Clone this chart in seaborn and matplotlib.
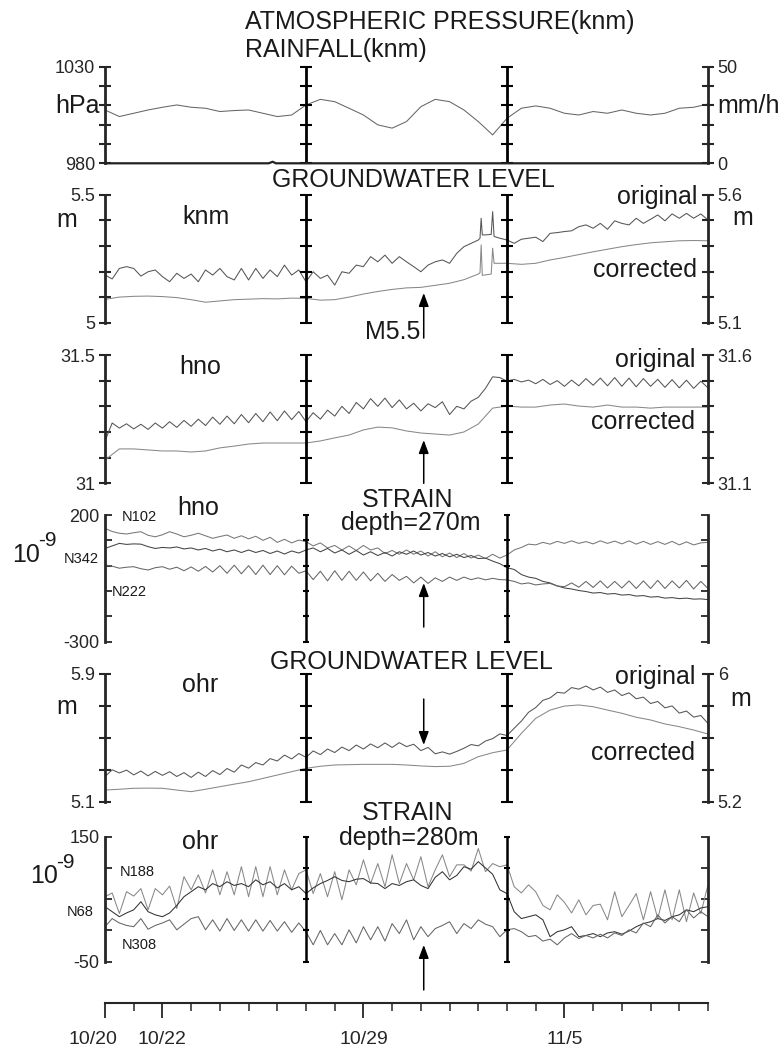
import numpy as np
import matplotlib
matplotlib.use("Agg")
import matplotlib.pyplot as plt
from matplotlib.transforms import ScaledTranslation
import seaborn as sns

# time grids (days since 10/20)
T_HALF = np.arange(0, 21.01, 0.5)
T_QUARTER = np.arange(0, 21.01, 0.25)
QUAKE_DAY = 11.1

DATE_DAYS = [0, 2, 9, 16]
DATE_LABELS = ["10/20", "10/22", "10/29", "11/5"]

# atmospheric pressure knm (hPa), half-day steps
pressure = [1007.6, 1004.2, 1005.9, 1007.6, 1009.0, 1010.2, 1009.0, 1008.5,
            1006.8, 1007.3, 1007.6, 1005.9, 1004.2, 1005.0, 1010.2, 1013.1,
            1011.9, 1008.5, 1005.0, 999.9, 998.2, 1001.6, 1009.3, 1013.1,
            1011.9, 1007.6, 1001.6, 994.7, 1003.3, 1008.5, 1009.7, 1008.5,
            1005.9, 1005.0, 1006.8, 1005.9, 1007.6, 1005.9, 1005.0, 1005.9,
            1008.5, 1009.0, 1010.7]
rain_day = [0, 5.7, 5.84, 5.95, 21]
rain_mm = [0, 0, 0.8, 0, 0]

# groundwater knm (m)
knm_orig = [5.186, 5.171, 5.212, 5.219, 5.212, 5.182, 5.199, 5.206,
            5.180, 5.160, 5.193, 5.173, 5.190, 5.160, 5.206, 5.186,
            5.212, 5.180, 5.167, 5.212, 5.167, 5.212, 5.173, 5.206,
            5.180, 5.225, 5.186, 5.206, 5.160, 5.199, 5.173, 5.186,
            5.147, 5.199, 5.193, 5.225, 5.219, 5.258, 5.238, 5.264,
            5.232, 5.258, 5.238, 5.219, 5.199, 5.225, 5.238, 5.245,
            5.232, 5.271, 5.297, 5.310, 5.323, 5.343, 5.434, 5.330,
            5.323, 5.310, 5.326, 5.330, 5.334, 5.317, 5.349, 5.352,
            5.356, 5.359, 5.375, 5.382, 5.369, 5.388, 5.365, 5.398,
            5.388, 5.382, 5.408, 5.388, 5.404, 5.421, 5.398, 5.425,
            5.408, 5.427, 5.408, 5.425, 5.401]
knm_corr = [5.091, 5.100, 5.103, 5.104, 5.102, 5.098, 5.090, 5.080,
            5.085, 5.090, 5.092, 5.094, 5.093, 5.096, 5.095, 5.088,
            5.090, 5.100, 5.112, 5.122, 5.130, 5.136, 5.138, 5.146,
            5.154, 5.168, 5.190, 5.291, 5.232, 5.228, 5.232, 5.245,
            5.255, 5.266, 5.277, 5.287, 5.297, 5.305, 5.312, 5.316,
            5.320, 5.321, 5.320]
spike_day = [13.06, 13.1, 13.14, 13.45, 13.55]
spike_orig = [5.330, 5.408, 5.343, 5.345, 5.337]
spike_corr = [5.195, 5.304, 5.185, 5.190, 5.232]

# groundwater hno (m)
hno_orig = [31.165, 31.235, 31.215, 31.232, 31.212, 31.230, 31.210, 31.235,
            31.215, 31.240, 31.218, 31.245, 31.222, 31.250, 31.225, 31.258,
            31.230, 31.262, 31.232, 31.268, 31.236, 31.272, 31.240, 31.278,
            31.244, 31.282, 31.248, 31.280, 31.240, 31.275, 31.250, 31.285,
            31.262, 31.300, 31.272, 31.315, 31.290, 31.330, 31.300, 31.332,
            31.295, 31.325, 31.290, 31.312, 31.282, 31.310, 31.295, 31.318,
            31.268, 31.300, 31.290, 31.320, 31.335, 31.370, 31.415, 31.412,
            31.398, 31.405, 31.395, 31.402, 31.388, 31.405, 31.385, 31.400,
            31.378, 31.402, 31.380, 31.408, 31.382, 31.410, 31.380, 31.412,
            31.378, 31.410, 31.376, 31.408, 31.378, 31.405, 31.374, 31.404,
            31.372, 31.402, 31.370, 31.398, 31.372]
hno_corr = [31.091, 31.134, 31.134, 31.130, 31.126, 31.126, 31.122, 31.126,
            31.138, 31.145, 31.153, 31.157, 31.157, 31.157, 31.157, 31.165,
            31.177, 31.188, 31.208, 31.219, 31.216, 31.204, 31.196, 31.192,
            31.188, 31.200, 31.231, 31.293, 31.301, 31.297, 31.297, 31.305,
            31.309, 31.301, 31.297, 31.305, 31.297, 31.297, 31.293, 31.297,
            31.297, 31.297, 31.297]

# strain hno, depth 270 m (1e-9)
n102 = [147, 135, 128, 125, 130, 134, 120, 114,
        122, 134, 125, 114, 120, 128, 118, 108,
        115, 121, 108, 118, 106, 116, 100, 112,
        92, 104, 90, 101, 95, 78, 90, 70,
        80, 62, 78, 60, 80, 62, 70, 48,
        60, 45, 62, 45, 58, 38, 55, 35,
        50, 32, 48, 30, 42, 28, 45, 30,
        42, 62, 72, 85, 82, 92, 85, 96,
        88, 98, 88, 95, 86, 98, 88, 97,
        86, 98, 85, 96, 84, 95, 84, 96,
        82, 94, 82, 90, 92]
n342 = [68, 78, 88, 84, 86, 85, 75, 68,
        72, 70, 74, 66, 70, 62, 68, 58,
        65, 55, 62, 52, 62, 52, 60, 48,
        58, 46, 58, 50, 62, 70, 55, 68,
        50, 62, 45, 60, 42, 55, 40, 52,
        38, 55, 45, 58, 42, 52, 38, 48,
        35, 45, 32, 40, 28, 30, 18, 8,
        -8, -15, -35, -45, -50, -62, -68, -80,
        -88, -92, -98, -102, -108, -106, -112, -110,
        -116, -114, -120, -118, -124, -122, -128, -126,
        -130, -128, -132, -131, -134]
n222 = [3, -2, -10, -6, -4, -12, -17, -8,
        -4, -14, -6, -20, -5, -22, -3, -25,
        0, -30, 2, -32, 0, -35, 2, -35,
        0, -36, -2, -30, -20, -55, -22, -60,
        -20, -58, -22, -58, -25, -60, -30, -62,
        -35, -58, -42, -68, -45, -70, -48, -62,
        -45, -58, -45, -55, -48, -56, -50, -55,
        -56, -62, -72, -68, -76, -72, -70, -80,
        -83, -68, -85, -62, -86, -60, -88, -62,
        -88, -60, -90, -60, -90, -58, -90, -60,
        -88, -58, -92, -62, -90]

# groundwater ohr (m)
ohr_orig = [5.257, 5.300, 5.280, 5.298, 5.268, 5.292, 5.262, 5.290,
            5.265, 5.288, 5.258, 5.282, 5.252, 5.285, 5.258, 5.295,
            5.270, 5.308, 5.285, 5.330, 5.310, 5.345, 5.330, 5.370,
            5.355, 5.392, 5.368, 5.402, 5.378, 5.418, 5.395, 5.430,
            5.408, 5.442, 5.420, 5.455, 5.430, 5.462, 5.438, 5.468,
            5.440, 5.470, 5.445, 5.460, 5.420, 5.440, 5.400, 5.412,
            5.398, 5.415, 5.435, 5.458, 5.450, 5.480, 5.495, 5.525,
            5.515, 5.560, 5.605, 5.660, 5.690, 5.735, 5.750, 5.785,
            5.780, 5.815, 5.805, 5.825, 5.800, 5.818, 5.785, 5.800,
            5.765, 5.782, 5.745, 5.755, 5.715, 5.728, 5.688, 5.700,
            5.655, 5.668, 5.630, 5.640, 5.590]
ohr_corr = [5.173, 5.178, 5.184, 5.185, 5.184, 5.173, 5.163, 5.178,
            5.194, 5.210, 5.225, 5.246, 5.267, 5.288, 5.309, 5.322,
            5.330, 5.332, 5.334, 5.334, 5.334, 5.330, 5.324, 5.320,
            5.322, 5.340, 5.382, 5.407, 5.424, 5.528, 5.622, 5.674,
            5.699, 5.706, 5.695, 5.674, 5.654, 5.629, 5.612, 5.587,
            5.570, 5.549, 5.524]

# strain ohr, depth 280 m (1e-9)
n188 = [54, 60, 27, 62, 55, 67, 33, 67,
        57, 71, 35, 86, 65, 89, 60, 97,
        57, 94, 57, 102, 54, 102, 54, 102,
        57, 97, 65, 91, 97, 59, 91, 54,
        94, 49, 97, 73, 113, 75, 107, 70,
        121, 75, 107, 81, 118, 70, 97, 121,
        86, 105, 105, 95, 131, 94, 107, 102,
        105, 70, 60, 73, 62, 40, 33, 57,
        45, 28, 49, 25, 40, 42, 17, 62,
        22, 40, 59, 17, 62, 19, 65, 17,
        65, 14, 60, 27, 73]
n68 = [38, 30, 22, 28, 33, 46, 30, 25,
       22, 28, 40, 54, 62, 70, 65, 75,
       70, 78, 72, 75, 70, 81, 73, 78,
       68, 75, 65, 70, 59, 68, 75, 80,
       86, 80, 78, 82, 83, 76, 75, 67,
       75, 72, 78, 81, 72, 67, 85, 94,
       81, 88, 102, 98, 110, 100, 90, 65,
       59, 30, 19, 22, 25, 17, -10, -2,
       1, 6, -10, -8, -5, -10, -4, -2,
       -6, -1, 6, 11, 14, 19, 16, 22,
       25, 33, 30, 36, 38]
n308 = [6, 19, 12, 8, 6, 19, 2, 8,
        12, 17, 1, 10, 19, 22, 1, 17,
        -1, 19, 0, 17, -1, 17, -1, 16,
        -1, 14, -3, 12, -2, -23, 0, -23,
        -5, -23, 1, -20, 6, -15, 6, -17,
        11, -5, 17, -15, 6, -10, 3, 8,
        14, -5, 11, 3, 17, 10, 6, -10,
        1, 3, -2, -10, -8, -17, -14, -23,
        -12, -5, -13, -8, -12, -6, -12, -4,
        -8, 1, -4, 12, 6, 25, 12, 22,
        14, 33, 20, 30, 22]

sns.set_style("white")
plt.rcParams["font.family"] = ["Liberation Sans", "DejaVu Sans"]

W, H = 780, 1049
fig = plt.figure(figsize=(W / 100, H / 100), dpi=100)
SEP_DAYS = [7, 14]
BIG = 18
TICK_FS = 13


def add_panel(top, bottom):
    return fig.add_axes([105 / W, 1 - bottom / H, 603 / W, (bottom - top) / H])


def ftext(x, y, s, **kw):
    kw.setdefault("va", "center")
    kw.setdefault("fontsize", BIG)
    kw.setdefault("color", "#1a1a1a")
    fig.text(x / W, 1 - y / H, s, **kw)


def end_labels(ticks, fmt):
    return [fmt(v) if i in (0, len(ticks) - 1) else "" for i, v in enumerate(ticks)]


def style(ax, ylim, step, fmt, strain=False):
    ax.set_xlim(0, 21)
    ax.set_ylim(*ylim)
    ticks = np.arange(ylim[0], ylim[1] + step / 2, step)
    ax.set_yticks(ticks)
    ax.set_yticklabels(end_labels(ticks, fmt))
    ax.set_xticks([])
    for s in ["top", "bottom", "right"]:
        ax.spines[s].set_visible(False)
    ax.spines["left"].set_linewidth(2)
    ax.patch.set_alpha(0)
    if strain:
        ax.tick_params(axis="y", direction="in", length=5, width=1.3,
                       labelsize=TICK_FS, pad=4, left=True, right=True)
        ax.spines["right"].set_visible(True)
        ax.spines["right"].set_linewidth(2)
    else:
        ax.tick_params(axis="y", direction="inout", length=8, width=1.5,
                       labelsize=TICK_FS, pad=3, left=True)
    for d in SEP_DAYS:
        ax.axvline(d, color="k", lw=2 if not strain else 1.8)
        ax.plot(np.full(len(ticks), d), ticks, ls="none", marker="_",
                ms=8 if not strain else 5, mew=1.5, color="k", clip_on=False)
    return ticks


def right_axis(ax, ylim, step, fmt):
    r = ax.twinx()
    r.set_ylim(*ylim)
    ticks = np.arange(ylim[0], ylim[1] + step / 2, step)
    r.set_yticks(ticks)
    r.set_yticklabels(end_labels(ticks, fmt))
    for s in ["top", "bottom", "left"]:
        r.spines[s].set_visible(False)
    r.spines["right"].set_linewidth(2)
    r.tick_params(axis="y", direction="inout", length=8, width=1.5,
                  labelsize=TICK_FS, pad=3, right=True)
    return r


def quake_arrow(ax, tail, tip):
    ax.annotate("", xy=(QUAKE_DAY, tip), xytext=(QUAKE_DAY, tail),
                xycoords=("data", "axes fraction"),
                textcoords=("data", "axes fraction"),
                arrowprops=dict(arrowstyle="-|>,head_length=0.8,head_width=0.3",
                                color="k", lw=1.1, shrinkA=0, shrinkB=0),
                annotation_clip=False)


def line(ax, x, y, color, lw=0.75):
    sns.lineplot(x=x, y=y, ax=ax, color=color, linewidth=lw)


def power_label(x, y):
    # "10" with a raised "-9"
    ftext(x, y, "10", ha="left", fontsize=18)
    ftext(x + 26, y - 14, "-9", ha="left", fontsize=15)


# panel 1: pressure and rainfall
ax1 = add_panel(66.7, 163.3)
line(ax1, T_HALF, pressure, "#666666")
style(ax1, (980, 1030), 10, lambda v: f"{v:.0f}")
r1 = right_axis(ax1, (0, 50), 10, lambda v: f"{v:.0f}")
r1.plot(rain_day, rain_mm, color="#222222", lw=1.6, clip_on=False)
r1.set_xlim(0, 21)

# panel 2: groundwater knm
ax2 = add_panel(194.7, 322.7)
kd = np.concatenate([T_QUARTER, spike_day])
order = np.argsort(kd)
line(ax2, kd[order], np.concatenate([knm_orig, spike_orig])[order], "#555555")
kd2 = np.concatenate([T_HALF, spike_day])
order2 = np.argsort(kd2)
line(ax2, kd2[order2], np.concatenate([knm_corr, spike_corr])[order2], "#888888")
style(ax2, (5.0, 5.5), 0.1, lambda v: f"{v:g}")
right_axis(ax2, (5.1, 5.6), 0.1, lambda v: f"{v:g}")
quake_arrow(ax2, -0.12, 0.232)

# panel 3: groundwater hno
ax3 = add_panel(355, 483.3)
line(ax3, T_QUARTER, hno_orig, "#555555")
line(ax3, T_HALF, hno_corr, "#888888")
style(ax3, (31.0, 31.5), 0.1, lambda v: f"{v:g}")
right_axis(ax3, (31.1, 31.6), 0.1, lambda v: f"{v:g}")
quake_arrow(ax3, 0.0, 0.337)

# panel 4: strain hno
ax4 = add_panel(515, 641.7)
line(ax4, T_QUARTER, n102, "#777777")
line(ax4, T_QUARTER, n342, "#444444")
line(ax4, T_QUARTER, n222, "#666666")
style(ax4, (-300, 200), 100, lambda v: f"{v:.0f}", strain=True)
quake_arrow(ax4, 0.116, 0.463)

# panel 5: groundwater ohr
ax5 = add_panel(674, 801.7)
line(ax5, T_QUARTER, ohr_orig, "#555555")
line(ax5, T_HALF, ohr_corr, "#888888")
style(ax5, (5.1, 5.9), 0.2, lambda v: f"{v:g}")
right_axis(ax5, (5.2, 6.0), 0.2, lambda v: f"{v:g}")
quake_arrow(ax5, 0.804, 0.444)

# panel 6: strain ohr
ax6 = add_panel(836.7, 961.7)
line(ax6, T_QUARTER, n188, "#888888")
line(ax6, T_QUARTER, n68, "#333333")
line(ax6, T_QUARTER, n308, "#666666")
style(ax6, (-50, 150), 50, lambda v: f"{v:.0f}", strain=True)
quake_arrow(ax6, -0.226, 0.134)

# time axis
axx = fig.add_axes([105 / W, 1 - 1003 / H, 603 / W, 0.0005])
axx.set_xlim(0, 21)
axx.set_yticks([])
for s in ["top", "left", "right"]:
    axx.spines[s].set_visible(False)
axx.spines["bottom"].set_linewidth(1.5)
axx.set_xticks(DATE_DAYS)
axx.set_xticklabels(DATE_LABELS)
axx.set_xticks(np.arange(0, 22), minor=True)
axx.tick_params(axis="x", which="major", direction="out", length=11, width=1.3,
                labelsize=14, pad=9, bottom=True)
axx.tick_params(axis="x", which="minor", direction="out", length=6, width=1.1,
                bottom=True)
first = axx.get_xticklabels()[0]
first.set_transform(first.get_transform() + ScaledTranslation(-0.12, 0, fig.dpi_scale_trans))

# texts
ftext(245, 22, "ATMOSPHERIC PRESSURE(knm)")
ftext(245, 50, "RAINFALL(knm)")
ftext(100, 106, "hPa", ha="right")
ftext(717, 106, "mm/h", ha="left")

ftext(413, 180, "GROUNDWATER LEVEL", ha="center")
ftext(206, 217, "knm", ha="center")
ftext(67, 220, "m", ha="center")
ftext(732, 218, "m", ha="left")
ftext(697, 197, "original", ha="right")
ftext(697, 270, "corrected", ha="right")
ftext(420, 332, "M5.5", ha="right")

ftext(200, 367, "hno", ha="center")
ftext(695, 360, "original", ha="right")
ftext(695, 422, "corrected", ha="right")

ftext(408, 500, "STRAIN", ha="center")
ftext(411, 523, "depth=270m", ha="center")
ftext(198, 508, "hno", ha="center")
power_label(12, 555)
ftext(122, 517, "N102", ha="left", fontsize=10.5)
ftext(64, 559, "N342", ha="left", fontsize=10.5)
ftext(112, 592, "N222", ha="left", fontsize=10.5)

ftext(411, 662, "GROUNDWATER LEVEL", ha="center")
ftext(200, 685, "ohr", ha="center")
ftext(67, 707, "m", ha="center")
ftext(730, 699, "m", ha="left")
ftext(695, 677, "original", ha="right")
ftext(695, 753, "corrected", ha="right")

ftext(408, 813, "STRAIN", ha="center")
ftext(409, 838, "depth=280m", ha="center")
ftext(200, 842, "ohr", ha="center")
power_label(30, 876)
ftext(120, 872, "N188", ha="left", fontsize=10.5)
ftext(67, 912, "N68", ha="left", fontsize=10.5)
ftext(122, 945, "N308", ha="left", fontsize=10.5)

fig.savefig("out.png", dpi=100)
